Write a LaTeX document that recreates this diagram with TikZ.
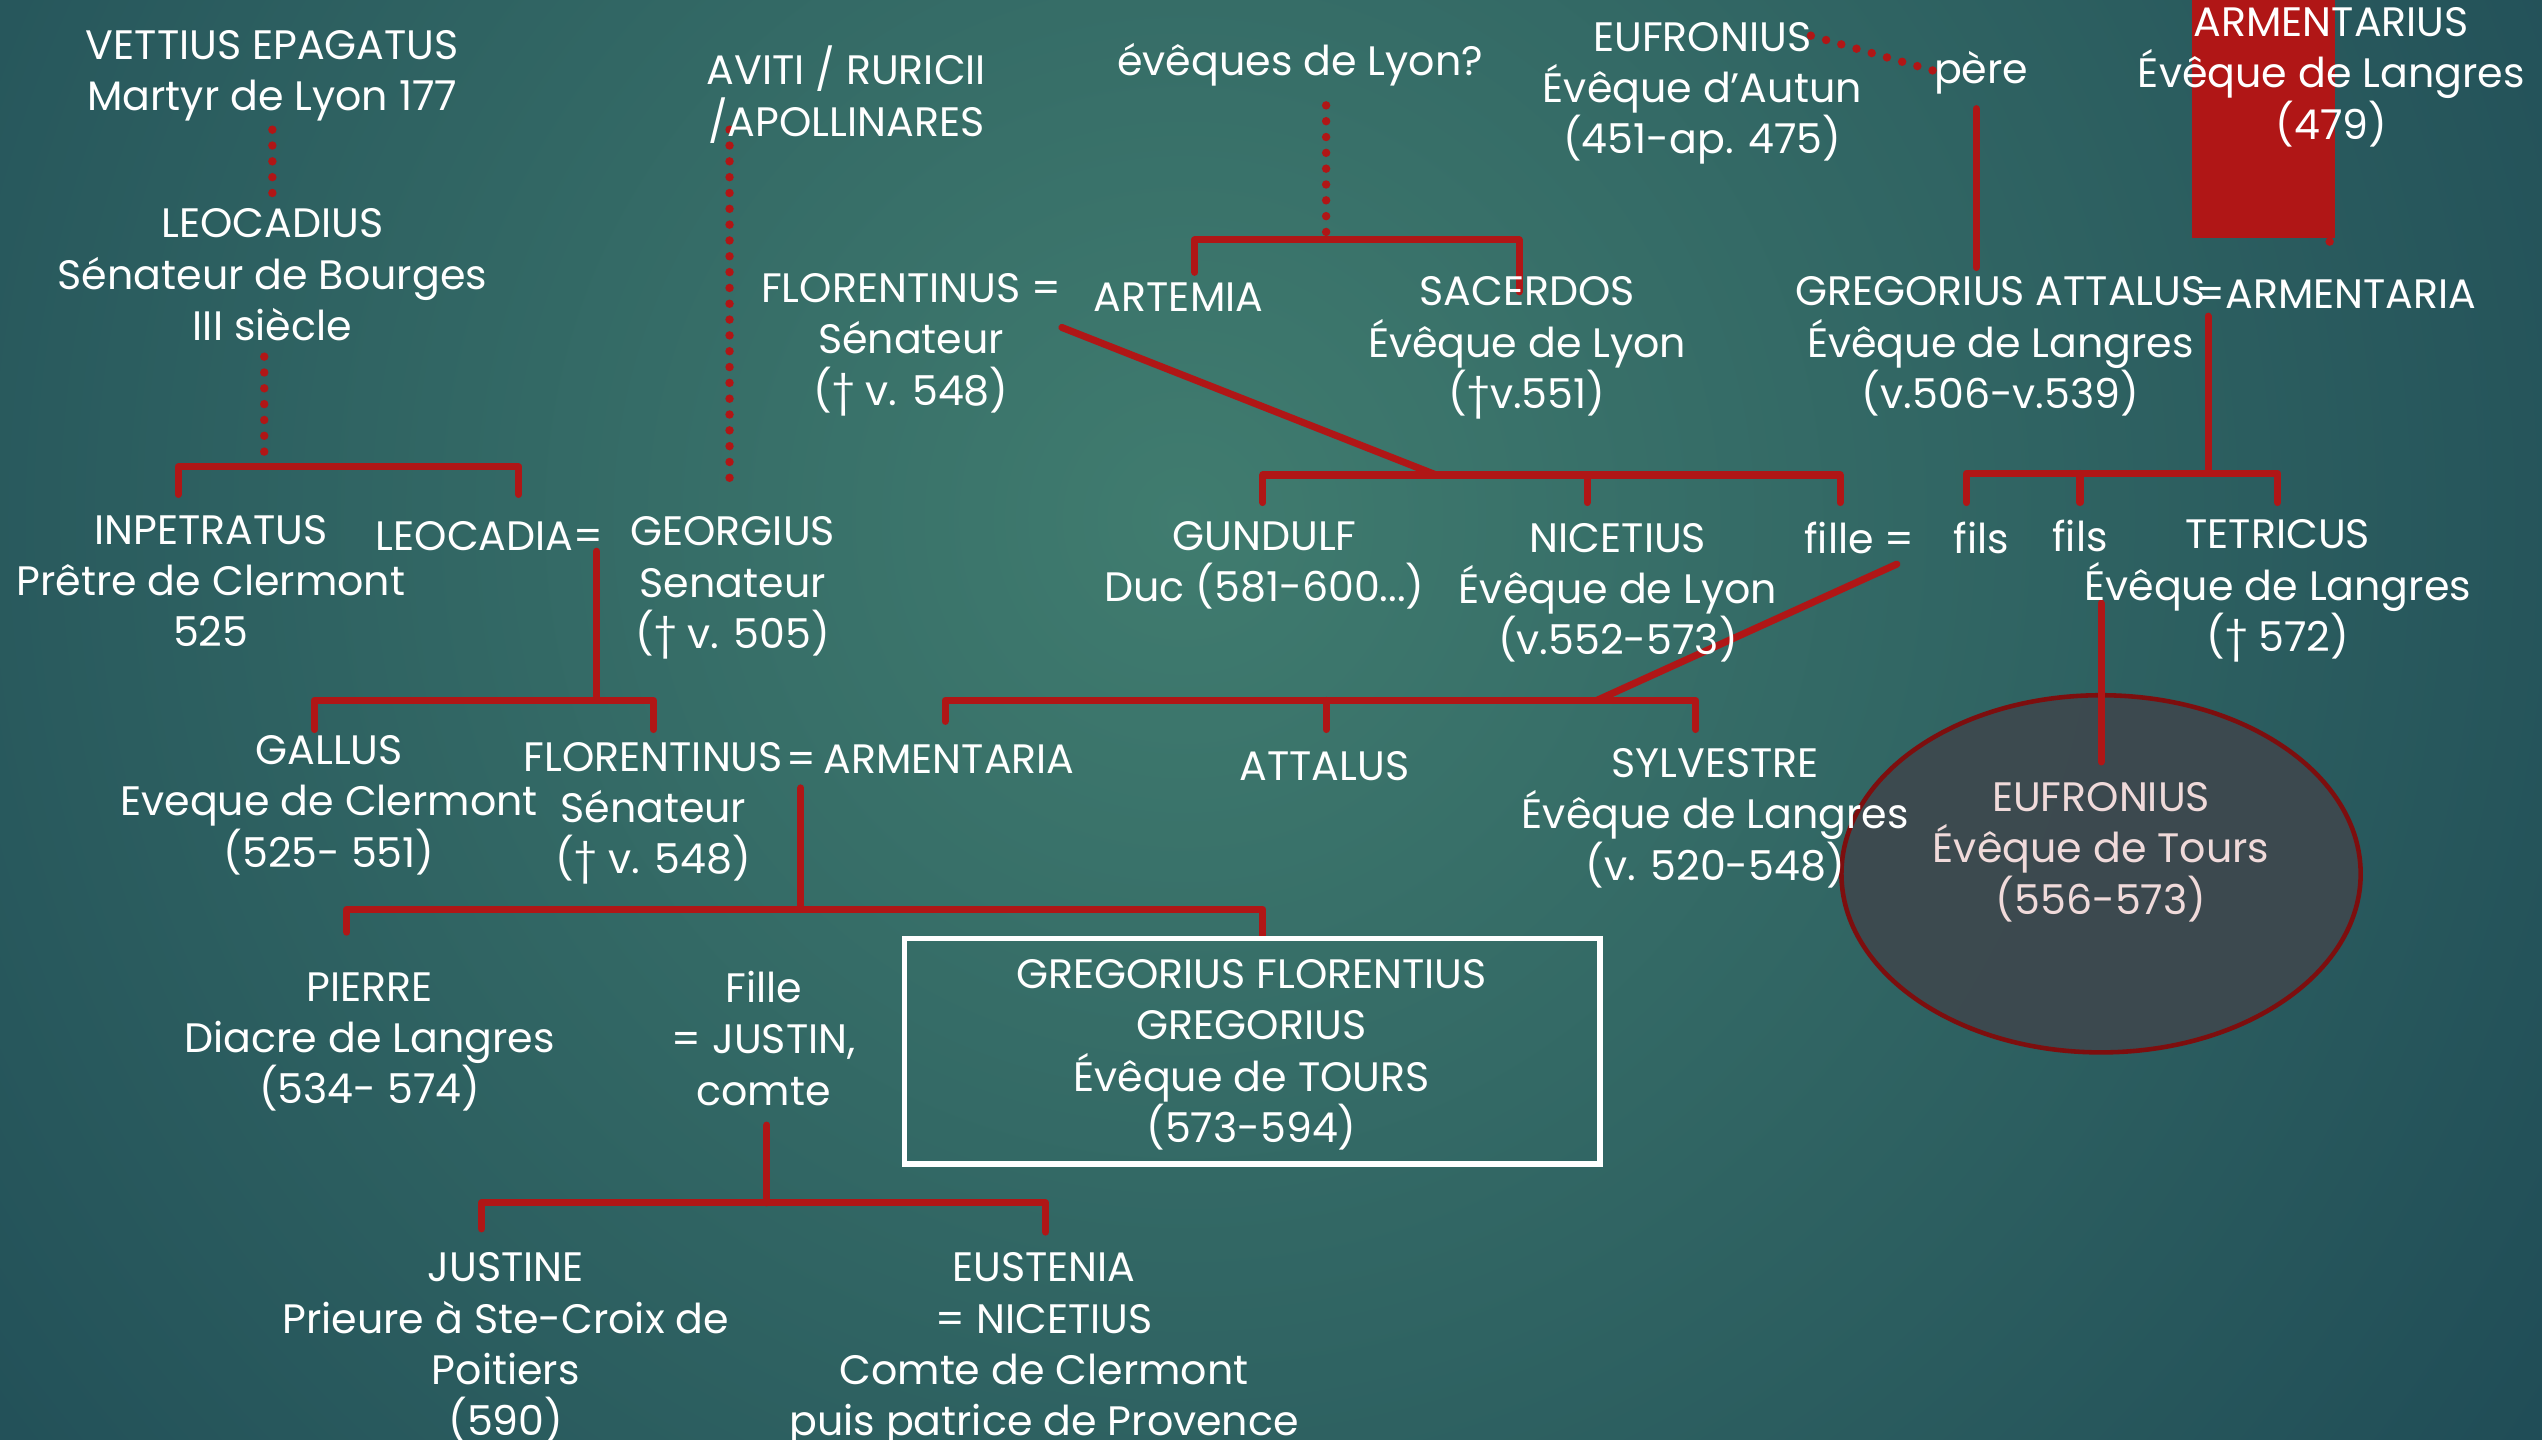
\documentclass[tikz,border=0pt]{standalone}
\usepackage{fontspec}
\setmainfont{Poppins}
\usetikzlibrary{shapes.geometric}
\definecolor{bgin}{RGB}{64,124,111}
\definecolor{bgout}{RGB}{18,56,76}
\definecolor{lred}{RGB}{176,22,22}
\definecolor{ellfill}{RGB}{62,72,78}
\definecolor{elldraw}{RGB}{125,14,14}
\definecolor{pinktext}{RGB}{240,218,218}
\tikzset{
 lbl/.style={text=white, align=center, inner sep=0pt, yshift=-0.082cm,
   font=\fontsize{11.7}{14.6}\selectfont,
   execute at begin node=\strut, execute at end node=\strut},
 redline/.style={draw=lred, line width=2pt, line cap=round, line join=round},
 dotline/.style={draw=lred, line width=2.4pt, line cap=round, dash pattern=on 0pt off 4.5pt},
}
\begin{document}
\begin{tikzpicture}[x=0.016212cm, y=-0.016212cm]
\useasboundingbox (0,0) rectangle (1568,888);
\begin{scope}
\clip (0,0) rectangle (1568,888);
\shade[inner color=bgin, outer color=bgout] (730,320) circle (1450);
\end{scope}

% coordinates
\coordinate (d1a) at (168,80);   \coordinate (d1b) at (168,124);
\coordinate (d2a) at (163,220);
\coordinate (d3a) at (450,80);   \coordinate (d3b) at (450,296);
\coordinate (d4a) at (818,65);
\coordinate (d5a) at (1117,22);  \coordinate (d5b) at (1194,44);
\coordinate (d6a) at (1437,110); \coordinate (d6b) at (1437,155);
\coordinate (b1L) at (110,305);  \coordinate (b1J) at (163,288);  \coordinate (b1R) at (320,305);
\coordinate (b2L) at (737,168);  \coordinate (b2J) at (818,148);  \coordinate (b2R) at (937,180);
\coordinate (b3L) at (1213,310); \coordinate (b3J) at (1362,292); \coordinate (b3R) at (1405,310); \coordinate (b3M) at (1283,310);
\coordinate (b4L) at (779,310);  \coordinate (b4J) at (886,293);  \coordinate (b4R) at (1135,310); \coordinate (b4M) at (979,310);
\coordinate (b5L) at (194,450);  \coordinate (b5J) at (368,432);  \coordinate (b5R) at (403,450);
\coordinate (b6L) at (583,445);  \coordinate (b6J) at (985,432);  \coordinate (b6R) at (1046,450); \coordinate (b6M) at (818,450);
\coordinate (b7L) at (214,575);  \coordinate (b7J) at (494,561);  \coordinate (b7R) at (779,578);
\coordinate (b8L) at (297,758);  \coordinate (b8J) at (473,742);  \coordinate (b8R) at (645,760);
\coordinate (pA) at (1219,67);   \coordinate (pB) at (1219,165);
\coordinate (aA) at (1362,195);
\coordinate (fA) at (655,202);
\coordinate (lA) at (368,340);
\coordinate (gA) at (1170,348);
\coordinate (flA) at (494,486);
\coordinate (jA) at (473,694);
\coordinate (sA) at (1296,372);  \coordinate (sB) at (1296,470);

% dotted lines
\draw[dotline] (d1a) -- (d1b);
\draw[dotline] (d2a) -- (b1J);
\draw[dotline] (d3a) -- (d3b);
\draw[dotline] (d4a) -- (b2J);
\draw[dotline] (d5a) -- (d5b);
\draw[dotline] (d6a) -- (d6b);

% red rectangle
\fill[lred] (1352,0) rectangle (1440,147);

% ellipse
\node[ellipse, draw=elldraw, line width=1.3pt, fill=ellfill, fill opacity=0.92, draw opacity=1,
      minimum width=5.19cm, minimum height=3.57cm, inner sep=0pt] (ell) at (1296,539) {};

% brackets
\draw[redline] (b1L) |- (b1J) -| (b1R);
\draw[redline] (b2L) |- (b2J) -| (b2R);
\draw[redline] (b3L) |- (b3J) -| (b3R);
\draw[redline] (b3M) -- (b3M |- b3J);
\draw[redline] (b4L) |- (b4J) -| (b4R);
\draw[redline] (b4M) -- (b4M |- b4J);
\draw[redline] (b5L) |- (b5J) -| (b5R);
\draw[redline] (b6L) |- (b6J) -| (b6R);
\draw[redline] (b6M) -- (b6M |- b6J);
\draw[redline] (b7L) |- (b7J) -| (b7R);
\draw[redline] (b8L) |- (b8J) -| (b8R);
\draw[redline] (pA) -- (pB);
\draw[redline] (aA) -- (b3J);
\draw[redline] (fA) -- (b4J);
\draw[redline] (lA) -- (b5J);
\draw[redline] (gA) -- (b6J);
\draw[redline] (flA) -- (b7J);
\draw[redline] (jA) -- (b8J);
\draw[redline] (sA) -- (sB);

% box
\node[draw=white, line width=1.6pt, minimum width=6.955cm, minimum height=2.253cm, inner sep=0pt] (gbox) at (772.5,648.5) {};

% texts
\node[lbl] (vettius) at (168,43) {VETTIUS EPAGATUS\\Martyr de Lyon 177};
\node[lbl] (leocadius) at (168,169) {LEOCADIUS\\Sénateur de Bourges\\III siècle};
\node[lbl] (aviti) at (522,56) {AVITI / RURICII\\/APOLLINARES};
\node[lbl] (eveques) at (802,35) {évêques de Lyon?};
\node[lbl] (eufr1) at (1050,54) {EUFRONIUS\\Évêque d’Autun\\(451-ap. 475)};
\node[lbl] (pere) at (1222,40) {père};
\node[lbl] (armentarius) at (1438,45) {ARMENTARIUS\\Évêque de Langres\\(479)};
\node[lbl] (flor1) at (562,209) {FLORENTINUS =\\Sénateur\\(† v. 548)};
\node[lbl] (artemia) at (727,181) {ARTEMIA};
\node[lbl] (sacerdos) at (942,211) {SACERDOS\\Évêque de Lyon\\(†v.551)};
\node[lbl] (gregatt) at (1234,211) {GREGORIUS ATTALUS\\Évêque de Langres\\(v.506-v.539)};
\node[lbl, anchor=west] (armentaria1) at (1354,179) {=ARMENTARIA};
\node[lbl] (inpetratus) at (130,358) {INPETRATUS\\Prêtre de Clermont\\525};
\node[lbl] (leocadia) at (302,328) {LEOCADIA=};
\node[lbl] (georgius) at (452,359) {GEORGIUS\\Senateur\\(† v. 505)};
\node[lbl] (gundulf) at (780,346) {GUNDULF\\Duc (581-600...)};
\node[lbl] (nicetius) at (998,363) {NICETIUS\\Évêque de Lyon\\(v.552-573)};
\node[lbl] (fille) at (1147,330) {fille =};
\node[lbl] (fils1) at (1222,330) {fils};
\node[lbl] (fils2) at (1283,329) {fils};
\node[lbl] (tetricus) at (1405,361) {TETRICUS\\Évêque de Langres\\(† 572)};
\node[lbl] (gallus) at (203,494) {GALLUS\\Eveque de Clermont\\(525- 551)};
\node[lbl] (flor2) at (403,498) {FLORENTINUS\\Sénateur\\(† v. 548)};
\node[lbl, anchor=west] (armentaria2) at (485,466) {=\,ARMENTARIA};
\node[lbl] (attalus) at (817,470) {ATTALUS};
\node[lbl] (sylvestre) at (1058,502) {SYLVESTRE\\Évêque de Langres\\(v. 520-548)};
\node[lbl, text=pinktext] (eufr2) at (1296,523) {EUFRONIUS\\Évêque de Tours\\(556-573)};
\node[lbl] (pierre) at (228,640) {PIERRE\\Diacre de Langres\\(534- 574)};
\node[lbl] (fillej) at (471,640) {Fille\\= JUSTIN,\\comte};
\node[lbl] (gregory) at (772,648) {GREGORIUS FLORENTIUS\\GREGORIUS\\Évêque de TOURS\\(573-594)};
\node[lbl] (justine) at (312,829) {JUSTINE\\Prieure à Ste-Croix de\\Poitiers\\(590)};
\node[lbl] (eustenia) at (644,829) {EUSTENIA\\= NICETIUS\\Comte de Clermont\\puis patrice de Provence};
\end{tikzpicture}
\end{document}
